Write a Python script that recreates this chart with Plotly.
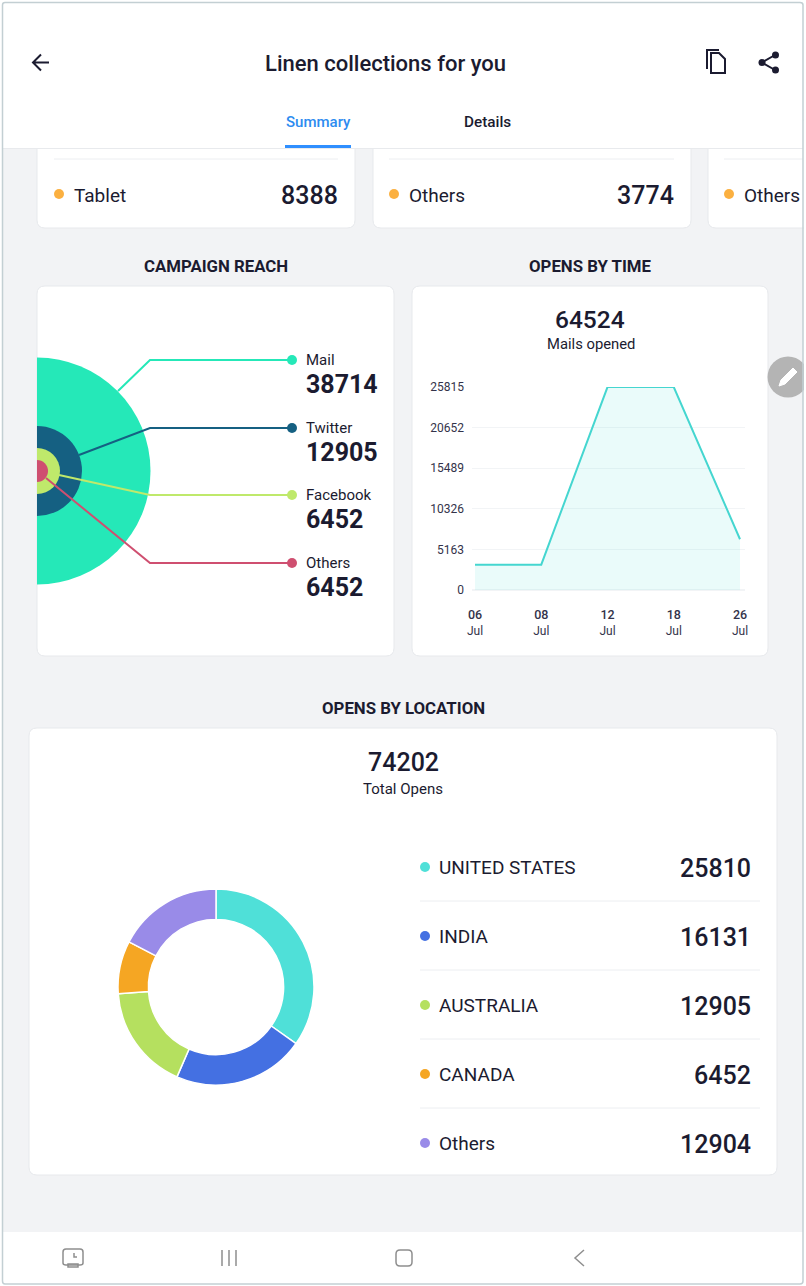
import plotly.graph_objects as go

# top strip cards
device_labels = ['Tablet', 'Others', 'Others']
device_values = [8388, 3774]

# campaign reach
reach_labels = ['Mail', 'Twitter', 'Facebook', 'Others']
reach_values = [38714, 12905, 6452, 6452]

# opens by time
time_total = 64524
time_days = ['06', '08', '12', '18', '26']
time_months = ['Jul', 'Jul', 'Jul', 'Jul', 'Jul']
time_values = [3226, 3226, 25810, 25810, 6452]
time_ticks = [0, 5163, 10326, 15489, 20652, 25815]

# opens by location
location_total = 74202
location_labels = ['UNITED STATES', 'INDIA', 'AUSTRALIA', 'CANADA', 'Others']
location_values = [25810, 16131, 12905, 6452, 12904]

W, H = 806, 1286
FONT = 'Roboto'
DARK = '#1b1b30'
GREY = '#8e8e8e'
BG = '#f2f3f5'
LINE = '#eceef1'
reach_colors = ['#25e8b8', '#156082', '#bfe96b', '#cf4f70']
reach_sizes = [227, 90, 46, 22]
location_colors = ['#4fe0d8', '#4470e2', '#b5e05f', '#f5a623', '#998be8']


def xdom(a, b):
    return [a / W, b / W]


def ydom(top, bottom):
    return [1 - bottom / H, 1 - top / H]


shapes = []
texts = []


def rect(x0, y0, x1, y1, fill, line=None, layer='below', r=0):
    if r:
        path = (f'M{x0+r},{y0} L{x1-r},{y0} Q{x1},{y0} {x1},{y0+r} L{x1},{y1-r} Q{x1},{y1} {x1-r},{y1} '
                f'L{x0+r},{y1} Q{x0},{y1} {x0},{y1-r} L{x0},{y0+r} Q{x0},{y0} {x0+r},{y0} Z')
        shapes.append(dict(type='path', path=path, xref='x', yref='y', fillcolor=fill, layer=layer,
                           line=dict(color=line or fill, width=1 if line else 0)))
    else:
        shapes.append(dict(type='rect', x0=x0, y0=y0, x1=x1, y1=y1, xref='x', yref='y', fillcolor=fill,
                           layer=layer, line=dict(color=line or fill, width=1 if line else 0)))


def seg(x0, y0, x1, y1, color, width=1, layer='below'):
    shapes.append(dict(type='line', x0=x0, y0=y0, x1=x1, y1=y1, xref='x', yref='y', layer=layer,
                       line=dict(color=color, width=width)))


def dot(x, y, r, color, layer='below'):
    shapes.append(dict(type='circle', x0=x - r, y0=y - r, x1=x + r, y1=y + r, xref='x', yref='y', layer=layer,
                       fillcolor=color, line=dict(width=0)))


def stroke(path, color=DARK, width=2, layer='below', fill=None):
    shapes.append(dict(type='path', path=path, xref='x', yref='y', layer=layer, fillcolor=fill or 'rgba(0,0,0,0)',
                       line=dict(color=color, width=width)))


def label(x, y, text, size, anchor='left', weight=400, color=DARK):
    texts.append(dict(x=x, y=y, xref='x', yref='y', text=str(text), showarrow=False, xanchor=anchor, yanchor='middle',
                      xshift=0, borderpad=0, font=dict(family=FONT, size=size, color=color, weight=weight)))


# page background
rect(0, 0, W, H, 'white')
rect(3, 148, 803, 1232, BG)

# top strip cards, they slide under the header
for x0, x1 in [(37, 355), (373, 691), (708, 860)]:
    rect(x0, 120, x1, 228, 'white', line='#e7e9ec', r=8)
for i, (x0, x1) in enumerate([(54, 338), (389, 674), (724, 803)]):
    seg(x0, 159, x1, 159, LINE)
    dot(x0 + 5, 194, 5, '#fbb040')
    label(x0 + 18.5, 195, device_labels[i], 19)
    if i < len(device_values):
        label(x1 + 1, 195, device_values[i], 25, anchor='right', weight=500)

# header
rect(3, 3, 803, 148, 'white')
seg(3, 148.5, 803, 148.5, '#e8eaed')
label(385.5, 63, 'Linen collections for you', 22, anchor='center', weight=500)
label(318, 122, 'Summary', 15, anchor='center', weight=500, color='#2d8cf0')
label(487.5, 122, 'Details', 15.3, anchor='center', weight=500)
rect(285, 145, 351, 148, '#2f8fff')
stroke('M49,62.5 L33.5,62.5 M41,54.5 L33,62.5 L41,70.5')
stroke('M711,73 L725,73 L725,59 L719,53 L711,53 Z M707,69 L707,50 L719,50')
stroke('M775,55 L762,62.5 L775,70')
dot(775.5, 55, 3.5, DARK)
dot(762, 62.5, 3.5, DARK)
dot(775.5, 70, 3.5, DARK)

# cards
rect(37, 286, 394, 656, 'white', line='#e7e9ec', r=8)
rect(412, 286, 768, 656, 'white', line='#e7e9ec', r=8)
rect(29, 728, 777, 1175, 'white', line='#e7e9ec', r=8)
label(216, 266, 'CAMPAIGN REACH', 16.8, anchor='center', weight=700)
label(590.5, 266, 'OPENS BY TIME', 16.8, anchor='center', weight=700)
label(403, 708, 'OPENS BY LOCATION', 16.8, anchor='center', weight=700)

# reach legend and leaders
leader_start = [(118, 391), (79, 455), (59, 475), (46, 478)]
leader_y = [360, 428, 495, 563]
for i, name in enumerate(reach_labels):
    sx, sy = leader_start[i]
    stroke(f'M{sx},{sy} L150,{leader_y[i]} L292,{leader_y[i]}', color=reach_colors[i], layer='above')
    dot(292, leader_y[i], 5, reach_colors[i])
    label(305, leader_y[i], name, 15)
    label(305, leader_y[i] + 24, reach_values[i], 25, weight=700)

# totals
label(590, 319, time_total, 24.5, anchor='center', weight=500)
label(590.5, 344, 'Mails opened', 14.8, anchor='center')
label(403, 762, location_total, 25, anchor='center', weight=500)
label(403, 789, 'Total Opens', 15, anchor='center')

# location rows
row_y = [867, 936, 1005, 1074, 1143]
for i, name in enumerate(location_labels):
    dot(425, row_y[i], 5, location_colors[i])
    label(438, row_y[i], name, 19)
    label(752, row_y[i] + 1, location_values[i], 25, anchor='right', weight=500)
    if i < 4:
        seg(420, row_y[i] + 34, 760, row_y[i] + 34, LINE)

# edit button
dot(788, 377, 20.5, '#b4b4b4')
stroke('M779,386 L781,380 L793,368 L797,372 L785,384 Z', color='white', width=1, fill='white')

# bottom navigation
rect(3, 1232, 803, 1283, 'white')
stroke('M66,1249 L80,1249 Q83,1249 83,1252 L83,1263 Q83,1265 80,1265 L66,1265 Q63,1265 63,1263 L63,1252 Q63,1249 66,1249 Z',
       color=GREY, width=1.5)
stroke('M74,1253 L74,1257 L77,1257', color=GREY, width=1.5)
stroke('M68,1264 L78,1264 L78,1267 L68,1267 Z', color=GREY, width=1.5)
for x in [222, 229, 236]:
    seg(x, 1250, x, 1266, GREY, 1.5)
stroke('M400,1250 L408,1250 Q412,1250 412,1254 L412,1262 Q412,1266 408,1266 L400,1266 Q396,1266 396,1262 '
       'L396,1254 Q396,1250 400,1250 Z', color=GREY, width=1.5)
stroke('M584,1250 L575,1258 L584,1266', color=GREY, width=1.5)

# outer frame
rect(0, 0, W, 2, 'white', layer='above')
rect(0, 1284, W, H, 'white', layer='above')
rect(0, 0, 2, H, 'white', layer='above')
rect(804, 0, W, H, 'white', layer='above')
shapes.append(dict(type='path', xref='x', yref='y', layer='above', fillcolor='rgba(0,0,0,0)',
                   path='M5,2.5 L800,2.5 Q803,2.5 803,5 L803,1281 Q803,1284 800,1284 L5,1284 Q2.5,1284 2.5,1281 L2.5,5 Q2.5,2.5 5,2.5 Z',
                   line=dict(color='#c3cfd3', width=1.5)))

fig = go.Figure()

# empty trace so the full page axes exist
fig.add_trace(go.Scatter(x=[0], y=[0], xaxis='x', yaxis='y', mode='markers', marker=dict(opacity=0), hoverinfo='skip'))

# concentric reach circles, clipped on the card edge
fig.add_trace(go.Scatter(x=[0, 0, 0, 0], y=[0, 0, 0, 0], xaxis='x2', yaxis='y2', mode='markers', cliponaxis=True,
                         text=reach_labels, customdata=reach_values,
                         marker=dict(size=reach_sizes, color=reach_colors, opacity=1, line=dict(width=0))))

tick_text = [f'<span style="font-weight:500;font-size:12.5px">{d}</span><br>{m}' for d, m in zip(time_days, time_months)]
fig.add_trace(go.Scatter(x=time_days, y=time_values, xaxis='x3', yaxis='y3', mode='lines', fill='tozeroy',
                         fillcolor='rgba(79,224,216,0.12)', line=dict(color='#45d6d0', width=2)))

fig.add_trace(go.Pie(labels=location_labels, values=location_values, hole=0.69, sort=False, direction='clockwise',
                     rotation=0, textinfo='none', marker=dict(colors=location_colors, line=dict(color='white', width=1.5)),
                     domain=dict(x=xdom(118, 314), y=ydom(889, 1085))))

fig.update_layout(
    width=W, height=H, margin=dict(l=0, r=0, t=0, b=0), autosize=False, showlegend=False,
    paper_bgcolor='white', plot_bgcolor='rgba(0,0,0,0)',
    font=dict(family=FONT, color=DARK, size=12),
    shapes=shapes, annotations=texts,
    xaxis=dict(domain=[0, 1], range=[0, W], visible=False, fixedrange=True, automargin=False),
    yaxis=dict(domain=[0, 1], range=[H, 0], visible=False, fixedrange=True, automargin=False),
    xaxis2=dict(domain=xdom(37, 394), range=[0, 357], visible=False, anchor='y2', automargin=False),
    yaxis2=dict(domain=ydom(286, 656), range=[-185, 185], visible=False, anchor='x2', automargin=False),
    xaxis3=dict(domain=xdom(472, 745), anchor='y3', type='category', categoryorder='array', categoryarray=time_days,
                range=[-3 / 66.25, 4 + 5 / 66.25], tickmode='array', tickvals=time_days, ticktext=tick_text,
                showgrid=False, zeroline=False, showline=False, ticks='', tickangle=0, ticklabelstandoff=16,
                automargin=False, tickfont=dict(family=FONT, size=12, color='#33334a')),
    yaxis3=dict(domain=ydom(387, 590), anchor='x3', range=[0, 25815], tickmode='array', tickvals=time_ticks,
                tickformat='d', showgrid=True, gridcolor='#f2f4f6', gridwidth=1, zeroline=True, zerolinecolor='#f2f4f6',
                showline=False, ticks='', automargin=False, ticklabelstandoff=7,
                tickfont=dict(family=FONT, size=12, color='#33334a')),
)

fig.write_html("out.html", config=dict(displayModeBar=False),
               post_script="document.body.style.margin='0';document.body.style.overflow='hidden';")
